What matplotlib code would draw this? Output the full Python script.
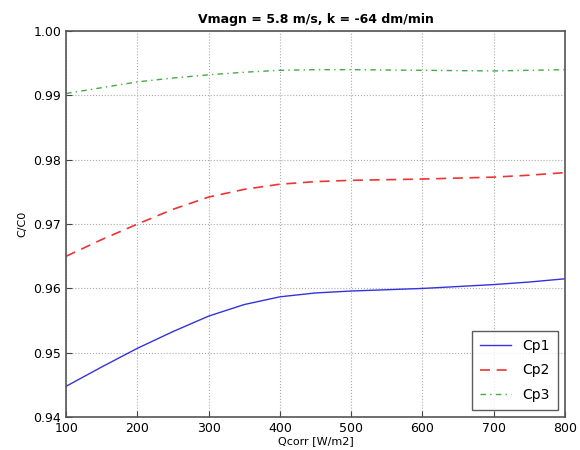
import numpy as np
import matplotlib
matplotlib.use("Agg")
import matplotlib.pyplot as plt

# data
qcorr = [100, 150, 200, 250, 300, 350, 400, 450, 500, 600, 700, 750, 800]
cp1 = [0.9448, 0.9478, 0.9507, 0.9533, 0.9557, 0.9575, 0.9587, 0.9593, 0.9596, 0.9600, 0.9606, 0.9610, 0.9615]
cp2 = [0.9650, 0.9676, 0.9700, 0.9723, 0.9742, 0.9754, 0.9762, 0.9766, 0.9768, 0.9770, 0.9773, 0.9776, 0.9780]
cp3 = [0.9903, 0.9912, 0.9921, 0.9927, 0.9932, 0.9936, 0.9939, 0.9940, 0.9940, 0.9939, 0.9938, 0.9939, 0.9940]

fig, ax = plt.subplots(figsize=(5.8, 4.5), dpi=100)
fig.subplots_adjust(left=0.114, right=0.974, top=0.931, bottom=0.073)

ax.plot(qcorr, cp1, color="#3333dd", linestyle="-", linewidth=1.0, label="Cp1")
ax.plot(qcorr, cp2, color="#ee3333", linestyle=(0, (6, 4)), linewidth=1.2, label="Cp2")
ax.plot(qcorr, cp3, color="#44aa44", linestyle=(0, (4, 3, 1, 3)), linewidth=1.0, label="Cp3")

ax.set_xlim(100, 800)
ax.set_ylim(0.94, 1.00)
ax.set_xticks(np.arange(100, 801, 100))
ax.set_yticks([0.94, 0.95, 0.96, 0.97, 0.98, 0.99, 1.00])
ax.set_yticklabels(["0.94", "0.95", "0.96", "0.97", "0.98", "0.99", "1.00"])
ax.tick_params(labelsize=9, direction="in", length=4, color="#444444")
ax.grid(True, linestyle=":", color="#aaaaaa", linewidth=0.8)
for s in ax.spines.values():
    s.set_color("#555555")
    s.set_linewidth(1.2)

ax.set_xlabel("Qcorr [W/m2]", fontsize=8, labelpad=1)
ax.set_ylabel("C/C0", fontsize=8)
ax.set_title("Vmagn = 5.8 m/s, k = -64 dm/min", fontsize=9, fontweight="bold")

leg = ax.legend(loc="lower right", fontsize=10, fancybox=False, handlelength=2.2,
                labelspacing=0.75, borderpad=0.6)
leg.get_frame().set_edgecolor("#333333")
leg.get_frame().set_linewidth(1.0)

fig.savefig("out.png")
